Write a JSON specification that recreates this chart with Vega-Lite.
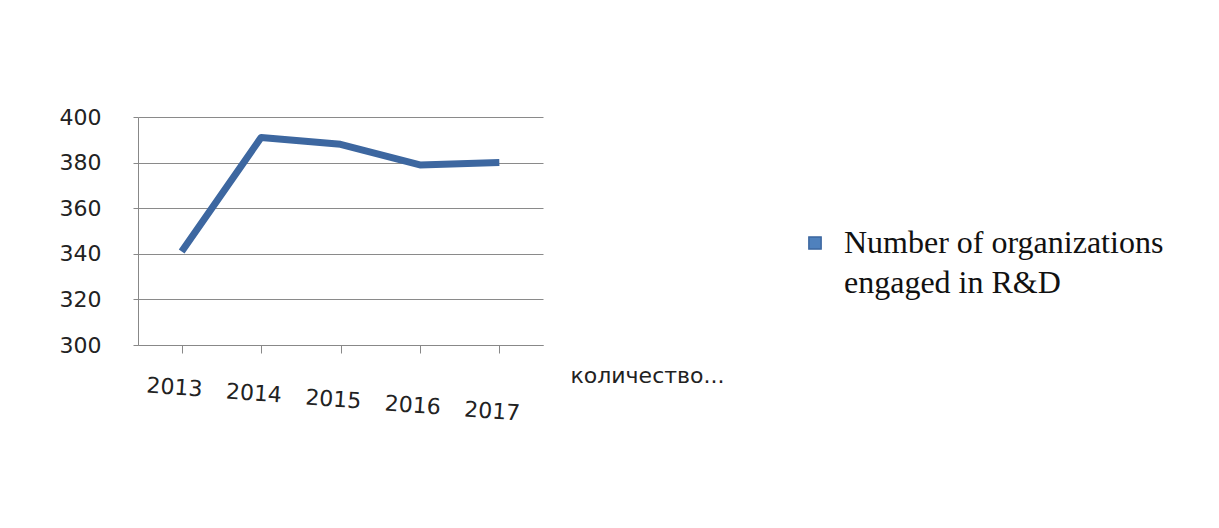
{
  "$schema": "https://vega.github.io/schema/vega-lite/v6.json",
  "autosize": {"type": "none"},
  "width": 405,
  "height": 228,
  "padding": {"left": 138, "top": 117, "right": 676, "bottom": 183},
  "background": "white",
  "config": {"view": {"stroke": null}, "font": "DejaVu Sans"},
  "data": {"values": [
    {"year": "2013", "value": 341, "series": "Number of organizations engaged in R&D"},
    {"year": "2014", "value": 391, "series": "Number of organizations engaged in R&D"},
    {"year": "2015", "value": 388, "series": "Number of organizations engaged in R&D"},
    {"year": "2016", "value": 379, "series": "Number of organizations engaged in R&D"},
    {"year": "2017", "value": 380, "series": "Number of organizations engaged in R&D"}
  ]},
  "mark": {"type": "line", "strokeWidth": 7, "strokeCap": "butt", "strokeJoin": "round"},
  "encoding": {
    "x": {"field": "year", "type": "ordinal", "scale": {"type": "point", "padding": 0.55},
      "axis": {"title": "количество...", "titleFont": "DejaVu Sans", "titleFontSize": 22, "titleFontWeight": "normal", "titleColor": "#222",
        "titleX": 432, "titleY": 30, "titleAlign": "left", "titleBaseline": "middle", "titleAnchor": null,
        "labelAngle": 4, "labelAlign": "center", "labelFontSize": 22, "labelColor": "#222",
        "labelPadding": {"expr": "24 + 6*indexof(['2013','2014','2015','2016','2017'], datum.value)"},
        "labelOffset": -7,
        "domainColor": "#888", "tickColor": "#888", "tickSize": 8, "grid": false}},
    "y": {"field": "value", "type": "quantitative", "scale": {"domain": [300, 400], "nice": false, "zero": false},
      "axis": {"title": null, "values": [300, 320, 340, 360, 380, 400], "labelFontSize": 22, "labelColor": "#222", "labelPadding": 32,
        "domainColor": "#888", "tickColor": "#888", "tickSize": 5, "grid": true, "gridColor": "#8a8a8a", "gridWidth": 1}},
    "color": {"field": "series", "type": "nominal", "scale": {"range": ["#3d67a0"]},
      "legend": {"title": null, "orient": "none", "legendX": 661, "legendY": 110,
        "symbolType": "square", "symbolFillColor": "#4f81bd", "symbolStrokeColor": "#4f81bd", "symbolSize": 150, "symbolOpacity": 1,
        "labelFont": "Liberation Serif", "labelFontSize": 32, "labelColor": "#111", "labelLimit": 500, "labelOffset": 13,
        "labelBaseline": "alphabetic",
        "labelExpr": "['Number of organizations', 'engaged in R&D']",
        "encode": {"labels": {"update": {"lineHeight": {"value": 40}, "dy": {"value": 10}}}}}}
  }
}
